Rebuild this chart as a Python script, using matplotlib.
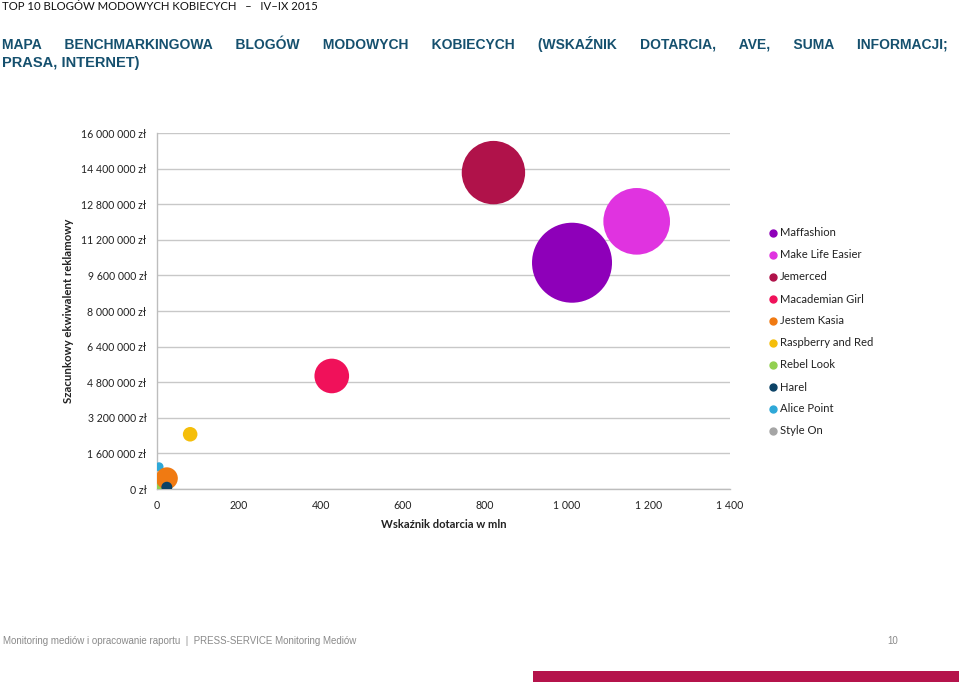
import numpy as np
import matplotlib
matplotlib.use("Agg")
import matplotlib.pyplot as plt
from matplotlib.lines import Line2D
from matplotlib.patches import Rectangle
from matplotlib.ticker import FuncFormatter

# blog data: reach (mln), advertising equivalent (zl), number of publications (bubble size)
blogs = ["Maffashion", "Make Life Easier", "Jemerced", "Macademian Girl", "Jestem Kasia",
         "Raspberry and Red", "Rebel Look", "Harel", "Alice Point", "Style On"]
reach = [1014, 1172, 822, 427, 24, 81, 3, 24, 5, 2]
ave = [10170000, 12030000, 14220000, 5080000, 480000, 2460000, 100000, 80000, 1000000, 50000]
publications = [1600, 1110, 1005, 300, 121, 53, 16, 30, 20, 9]
colors = ["#8E00B9", "#E033E0", "#B0124A", "#F0115A", "#F07A12",
          "#F5BE0A", "#92D050", "#0B4266", "#2EA8D8", "#A5A5A5"]
draw_order = ["Alice Point", "Style On", "Rebel Look", "Maffashion", "Make Life Easier", "Jemerced",
              "Macademian Girl", "Jestem Kasia", "Raspberry and Red", "Harel"]

y_ticks = np.arange(0, 16000001, 1600000)
x_ticks = np.arange(0, 1401, 200)

W, H = 959, 682
fig = plt.figure(figsize=(W / 100, H / 100), dpi=100)
fig.patch.set_facecolor("white")

# plot area in pixels
left, right, top, bottom = 157, 730, 133, 489
ax = fig.add_axes([left / W, 1 - bottom / H, (right - left) / W, (bottom - top) / H])
ax.set_xlim(0, 1400)
ax.set_ylim(0, 16000000)

max_r = 40  # px, largest bubble radius
sizes = [(1.44 * max_r * np.sqrt(p / max(publications))) ** 2 for p in publications]
for name in draw_order:
    i = blogs.index(name)
    ax.scatter(reach[i], ave[i], s=sizes[i], color=colors[i], edgecolors="none", zorder=3)

ax.set_yticks(y_ticks)
ax.set_xticks(x_ticks)
ax.yaxis.set_major_formatter(FuncFormatter(lambda v, p: f"{int(round(v)):,}".replace(",", " ") + " zł"))
ax.xaxis.set_major_formatter(FuncFormatter(lambda v, p: f"{int(round(v)):,}".replace(",", " ")))
ax.tick_params(length=0, labelsize=7.6, colors="#222222")
ax.tick_params(axis="y", pad=7.5)
ax.tick_params(axis="x", pad=8)
for lbl in ax.get_xticklabels() + ax.get_yticklabels():
    lbl.set_family("Lato")
ax.grid(axis="y", color="#C8C8C8", linewidth=1)
ax.set_axisbelow(True)
for s in ["top", "right"]:
    ax.spines[s].set_visible(False)
for s in ["left", "bottom"]:
    ax.spines[s].set_color("#BDBDBD")
    ax.spines[s].set_linewidth(1)

fig.text((left + right) / 2 / W, 1 - 524 / H, "Wskaźnik dotarcia w mln", family="Lato",
         weight="bold", size=8.1, ha="center", va="center", color="#222222")
fig.text(68 / W, 1 - 311 / H, "Szacunkowy ekwiwalent reklamowy", family="Lato",
         weight="bold", size=8.2, ha="center", va="center", rotation=90, color="#222222")

# legend
for i, name in enumerate(blogs):
    yy = 1 - (233 + 22 * i) / H
    fig.add_artist(Line2D([773 / W], [yy], marker="o", markersize=5, color=colors[i],
                          linestyle="none", transform=fig.transFigure))
    fig.text(780 / W, yy, name, family="Lato", size=8.1, va="center", color="#222222")

# header
fig.text(2 / W, 1 - 7 / H, "TOP 10 BLOGÓW MODOWYCH KOBIECYCH   –   IV–IX 2015", family="Lato",
         size=8.2, va="center", color="#111111")

# title, first line justified with spaces so it stays one text on one baseline
title_color = "#15506E"
line1 = "MAPA BENCHMARKINGOWA BLOGÓW MODOWYCH KOBIECYCH (WSKAŹNIK DOTARCIA, AVE, SUMA INFORMACJI;"
words = line1.split()
renderer = fig.canvas.get_renderer()
t1 = fig.text(2 / W, 1 - 49 / H, "", family="Liberation Sans", weight="bold", size=10,
              va="baseline", color=title_color)


def text_width(s):
    t1.set_text(s)
    return t1.get_window_extent(renderer).width


space_w = (text_width("M" + " " * 20 + "M") - text_width("MM")) / 20
words_w = sum(text_width(w) for w in words)
n_spaces = max(len(words) - 1, int(round((948 - words_w) / space_w)))
per_gap, extra = divmod(n_spaces, len(words) - 1)
parts = [words[0]]
for k, w in enumerate(words[1:]):
    parts.append(" " * (per_gap + (1 if k < extra else 0)))
    parts.append(w)
t1.set_text("".join(parts))

fig.text(2 / W, 1 - 67.5 / H, "PRASA, INTERNET)", family="Liberation Sans", weight="bold",
         size=10.5, va="baseline", color=title_color)

# footer
fig.text(3 / W, 1 - 641 / H, "Monitoring mediów i opracowanie raportu  |  PRESS-SERVICE Monitoring Mediów",
         family="Liberation Sans", size=7.0, va="center", color="#8A8A8A")
fig.text(893 / W, 1 - 641 / H, "10", family="Liberation Sans", size=7.0, va="center",
         ha="center", color="#8A8A8A")
fig.add_artist(Rectangle((533 / W, 0), (W - 533) / W, 11 / H, transform=fig.transFigure,
                         color="#B5134B", linewidth=0))

fig.savefig("out.png", dpi=100)
